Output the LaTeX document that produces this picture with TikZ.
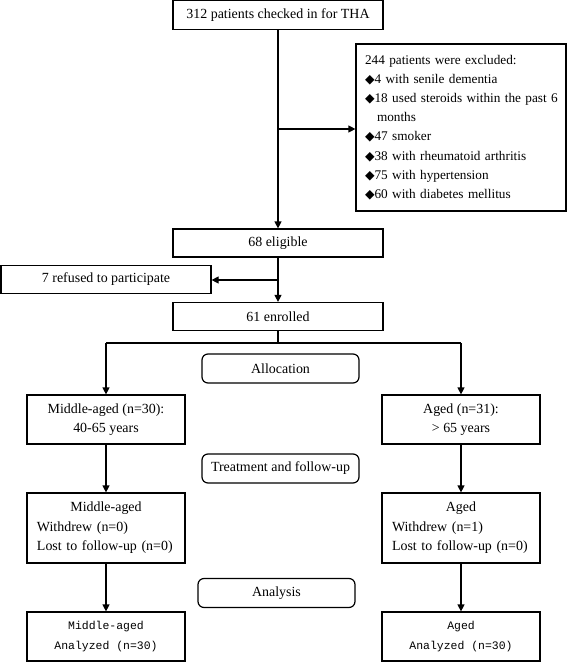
\documentclass[tikz,border=0pt]{standalone}
\usepackage{fontspec}
\setmainfont{Liberation Serif}
\newfontfamily\monofont{Liberation Mono}
\newfontfamily\symfont{DejaVu Sans}
\usetikzlibrary{arrows.meta}
\newcommand{\dmd}{{\symfont\fontsize{12.5}{19.3}\selectfont ◆}}

\begin{document}
\begin{tikzpicture}[x=1bp,y=-1bp,
	box/.style={draw=black, line width=1.2bp, inner sep=0pt, minimum width=210bp, minimum height=28bp, font=\fontsize{14}{19.5}\selectfont},
	armbox/.style={box, minimum width=158bp, minimum height=49bp},
	listbox/.style={armbox, minimum height=70bp, text width=138bp, inner xsep=10bp, align=left},
	endbox/.style={armbox, font=\monofont\fontsize{11.5}{20}\selectfont, align=center},
	stage/.style={box, rounded corners=6bp, minimum width=157bp, minimum height=29bp},
	link/.style={line width=1.2bp, black},
	arr/.style={link, -{Triangle[length=7bp,width=7bp]}}]
	\useasboundingbox (0,0) rectangle (567,662);

	\node[box, minimum height=29bp] (checked) at (278,15) {312 patients checked in for THA};
	\node[box, minimum height=167bp, text width=192bp, inner sep=9bp, align=left, font=\fontsize{13.3}{19.3}\selectfont] (excluded) at (461,127.5)
		{244 patients were excluded:\\
		\dmd4 with senile dementia\\
		\mbox{\dmd18 used steroids within the past 6}\\
		\hspace*{12bp}months\\
		\dmd47 smoker\\
		\dmd38 with rheumatoid arthritis\\
		\dmd75 with hypertension\\
		\dmd60 with diabetes mellitus};
	\node[box] (eligible) at (278,243) {68 eligible};
	\node[box] (refused) at (106,279.5) {7 refused to participate};
	\node[box] (enrolled) at (278,316.5) {61 enrolled};

	\node[stage] (alloc) at (280.5,368.5) {Allocation};
	\node[stage] (treat) at (280.5,468.5) {Treatment and follow-up};
	\node[stage] (analysis) at (276.5,593) {Analysis};

	\node[armbox, align=center] (midA) at (106,419.5) {Middle-aged (n=30):\\40-65 years};
	\node[armbox, align=center] (agedA) at (461,419.5) {Aged (n=31):\\ > 65 years};
	\node[listbox] (midB) at (106,528) {\makebox[138bp]{Middle-aged}\\Withdrew (n=0)\\Lost to follow-up (n=0)};
	\node[listbox] (agedB) at (461,528) {\makebox[138bp]{Aged}\\Withdrew (n=1)\\Lost to follow-up (n=0)};
	\node[endbox] (midC) at (106,636.5) {Middle-aged\\Analyzed (n=30)};
	\node[endbox] (agedC) at (461,636.5) {Aged\\Analyzed (n=30)};

	\coordinate (j1) at (278,129);
	\coordinate (j2) at (278,280);
	\coordinate (j3) at (278,343);
	\coordinate (jl) at (106,343);
	\coordinate (jr) at (461,343);

	\path [arr] (checked) edge (eligible);
	\path [arr] (j1) edge (j1 -| excluded.west);
	\path [arr] (eligible) edge (enrolled);
	\path [arr] (j2) edge (j2 -| refused.east);
	\path [link] (enrolled) edge (j3);
	\path [link] (jl) edge (jr);
	\path [arr] (jl) edge (midA);
	\path [arr] (jr) edge (agedA);
	\path [arr] (midA) edge (midB);
	\path [arr] (agedA) edge (agedB);
	\path [arr] (midB) edge (midC);
	\path [arr] (agedB) edge (agedC);
\end{tikzpicture}
\end{document}
